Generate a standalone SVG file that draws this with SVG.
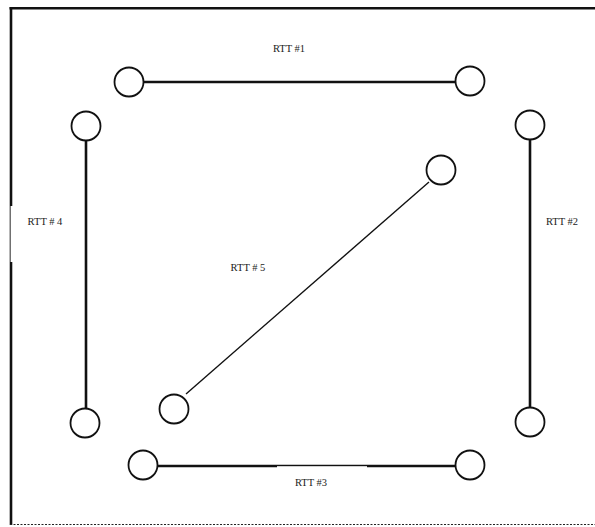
<svg xmlns="http://www.w3.org/2000/svg" width="595" height="527" viewBox="0 0 595 527">
<style>
.node{fill:#fff;stroke:#111;stroke-width:1.8}
.edge{stroke:#111;stroke-width:2.6;fill:none}
.thin{stroke:#111;stroke-width:1.4;fill:none}
.lbl{font-family:"Liberation Serif",serif;font-size:10.5px;fill:#222}
</style>
<rect width="595" height="527" fill="#fff"/>
<g id="frame">
<line x1="9.5" y1="8.3" x2="595" y2="8.3" stroke="#111" stroke-width="2.6"/>
<line x1="11" y1="7" x2="11" y2="525" stroke="#111" stroke-width="2.6"/>
<line x1="10" y1="524.5" x2="595" y2="524.5" stroke="#222" stroke-width="1" stroke-dasharray="2,1.5"/>
<rect x="10.6" y="206" width="60" height="56" fill="#fff"/>
</g>
<g id="connectors">
<line id="e1" class="edge" x1="144" y1="82" x2="456" y2="82"/>
<line id="e2" class="edge" x1="530" y1="140" x2="530" y2="408"/>
<line id="e3" class="edge" x1="158" y1="466" x2="455" y2="466"/>
<line id="e4" class="edge" x1="86" y1="141" x2="86" y2="409"/>
<line id="e5" class="thin" x1="186" y1="394" x2="429" y2="182"/>
<rect x="277" y="466.2" width="90" height="14" fill="#fff"/>
</g>
<g id="n1"><circle class="node" cx="129" cy="82" r="14.5"/></g>
<g id="n2"><circle class="node" cx="470" cy="81" r="14.5"/></g>
<g id="n3"><circle class="node" cx="530" cy="125" r="14.5"/></g>
<g id="n4"><circle class="node" cx="530" cy="422" r="14.5"/></g>
<g id="n5"><circle class="node" cx="143" cy="465" r="14.5"/></g>
<g id="n6"><circle class="node" cx="470" cy="465" r="14.5"/></g>
<g id="n7"><circle class="node" cx="86" cy="126" r="14.5"/></g>
<g id="n8"><circle class="node" cx="85" cy="423" r="14.5"/></g>
<g id="n9"><circle class="node" cx="441" cy="170" r="14.5"/></g>
<g id="n10"><circle class="node" cx="174" cy="409" r="14.5"/></g>
<g id="labels">
<text class="lbl" x="289" y="52" text-anchor="middle">RTT #1</text>
<text class="lbl" x="562" y="225" text-anchor="middle">RTT #2</text>
<text class="lbl" x="311" y="486" text-anchor="middle">RTT #3</text>
<text class="lbl" x="45" y="225" text-anchor="middle">RTT # 4</text>
<text class="lbl" x="248" y="271" text-anchor="middle">RTT # 5</text>
</g>
</svg>
